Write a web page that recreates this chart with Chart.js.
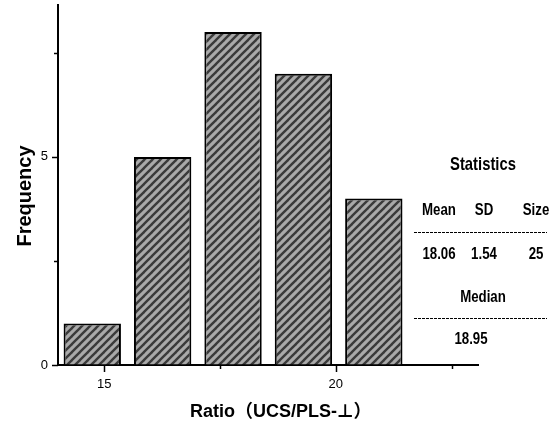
<!DOCTYPE html>
<html>
<head>
<meta charset="utf-8">
<script src="https://cdn.jsdelivr.net/npm/chart.js@4/dist/chart.umd.min.js"></script>
<style>
  html, body { margin: 0; padding: 0; background: #fff; }
  canvas { display: block; }
</style>
</head>
<body>
<canvas id="hist" width="560" height="430"></canvas>
<script>
// Histogram of the UCS / PLS ratio
const binCenters = [14.74, 16.26, 17.78, 19.30, 20.82];
const frequencies = [1, 5, 8, 7, 4];

const xMajorTicks = [15, 20];
const xMinorTicks = [17.5, 22.5];
const yMajorTicks = [0, 5];
const yMinorTicks = [2.5, 7.5];

const xTitle = 'Ratio（UCS/PLS-⊥）';
const yTitle = 'Frequency';

const statsTitle = 'Statistics';
const statHeaders = ['Mean', 'SD', 'Size'];
const statValues = ['18.06', '1.54', '25'];
const medianHeader = 'Median';
const medianValue = '18.95';

const SANS = "'Liberation Sans', Arial, 'DejaVu Sans', 'Noto Sans CJK SC', sans-serif";

// diagonal hatch used to fill the bars
function makeHatch() {
  const c = document.createElement('canvas');
  c.width = 8; c.height = 8;
  const g = c.getContext('2d');
  g.fillStyle = '#a9a9a9';
  g.fillRect(0, 0, 8, 8);
  g.strokeStyle = '#3a3a3a';
  g.lineWidth = 2.4;
  for (let k = -1; k <= 1; k++) {
    g.beginPath();
    g.moveTo(-2 + k * 8, 10);
    g.lineTo(10 + k * 8, -2);
    g.stroke();
  }
  return g.createPattern(c, 'repeat');
}

const tickMarks = {
  id: 'tickMarks',
  afterDraw(chart) {
    const { ctx, scales: { x, y }, chartArea: a } = chart;
    ctx.save();
    ctx.strokeStyle = '#000';
    ctx.lineWidth = 1.5;
    const xt = (v, len) => {
      const p = Math.round(x.getPixelForValue(v)) + 0.5;
      ctx.beginPath(); ctx.moveTo(p, a.bottom); ctx.lineTo(p, a.bottom + len); ctx.stroke();
    };
    const yt = (v, len) => {
      const p = Math.round(y.getPixelForValue(v)) + 0.5;
      ctx.beginPath(); ctx.moveTo(a.left, p); ctx.lineTo(a.left - len, p); ctx.stroke();
    };
    xMajorTicks.forEach(v => xt(v, 7));
    xMinorTicks.forEach(v => xt(v, 4));
    yMajorTicks.forEach(v => yt(v, 6));
    yMinorTicks.forEach(v => yt(v, 4));
    ctx.restore();
  }
};

const titles = {
  id: 'titles',
  afterDraw(chart) {
    const { ctx } = chart;
    ctx.save();
    ctx.fillStyle = '#000';
    ctx.textBaseline = 'middle';
    ctx.font = 'bold 18px ' + SANS;
    ctx.textAlign = 'left';
    ctx.fillText(xTitle, 190, 412);
    ctx.textAlign = 'center';
    ctx.font = 'bold 20px ' + SANS;
    ctx.translate(25, 196);
    ctx.rotate(-Math.PI / 2);
    ctx.fillText(yTitle, 0, 0);
    ctx.restore();
  }
};

// condensed bold text for the statistics block
function narrowText(ctx, text, cx, cy, size) {
  ctx.save();
  ctx.font = 'bold ' + size + 'px ' + SANS;
  ctx.translate(cx, cy);
  ctx.scale(0.78, 1);
  ctx.fillText(text, 0, 0);
  ctx.restore();
}

const statsTable = {
  id: 'statsTable',
  afterDraw(chart) {
    const ctx = chart.ctx;
    ctx.save();
    ctx.fillStyle = '#000';
    ctx.textAlign = 'center';
    ctx.textBaseline = 'middle';
    narrowText(ctx, statsTitle, 483, 165, 19);
    const cols = [439, 484, 536];
    statHeaders.forEach((t, i) => narrowText(ctx, t, cols[i], 210, 17));
    statValues.forEach((t, i) => narrowText(ctx, t, cols[i], 254, 17));
    narrowText(ctx, medianHeader, 483, 297, 17);
    narrowText(ctx, medianValue, 471, 339, 17);
    ctx.strokeStyle = '#000';
    ctx.lineWidth = 1;
    ctx.setLineDash([3, 1]);
    [232.5, 318.5].forEach(yy => {
      ctx.beginPath(); ctx.moveTo(414, yy); ctx.lineTo(547, yy); ctx.stroke();
    });
    ctx.restore();
  }
};

new Chart(document.getElementById('hist'), {
  type: 'bar',
  data: {
    datasets: [{
      data: binCenters.map((c, i) => ({ x: c, y: frequencies[i] })),
      backgroundColor: makeHatch(),
      borderColor: '#000',
      borderWidth: 2,
      barPercentage: 0.815,
      categoryPercentage: 1
    }]
  },
  options: {
    responsive: false,
    animation: false,
    devicePixelRatio: 1,
    layout: { padding: { top: 5, right: 82, bottom: 0, left: 0 } },
    plugins: { legend: { display: false }, tooltip: { enabled: false } },
    scales: {
      x: {
        type: 'linear',
        offset: false,
        min: 14,
        max: 23.07,
        afterFit: s => { s.height = 65; s.paddingLeft = 0; s.paddingRight = 0; },
        border: { color: '#000', width: 2 },
        grid: { display: true, offset: false, drawOnChartArea: false, drawTicks: false, color: 'rgba(0,0,0,0)' },
        ticks: {
          stepSize: 2.5,
          includeBounds: false,
          padding: 12,
          color: '#000',
          font: { family: SANS, size: 13 },
          maxRotation: 0,
          callback: v => xMajorTicks.includes(v) ? String(v) : ''
        }
      },
      y: {
        min: 0,
        max: 8.65,
        afterFit: s => { s.width = 58; s.paddingTop = 0; s.paddingBottom = 0; },
        border: { color: '#000', width: 2 },
        grid: { display: true, drawOnChartArea: false, drawTicks: false, color: 'rgba(0,0,0,0)' },
        ticks: {
          stepSize: 2.5,
          includeBounds: false,
          padding: 10,
          color: '#000',
          font: { family: SANS, size: 13 },
          callback: v => yMajorTicks.includes(v) ? String(v) : ''
        }
      }
    }
  },
  plugins: [tickMarks, titles, statsTable]
});
</script>
</body>
</html>
